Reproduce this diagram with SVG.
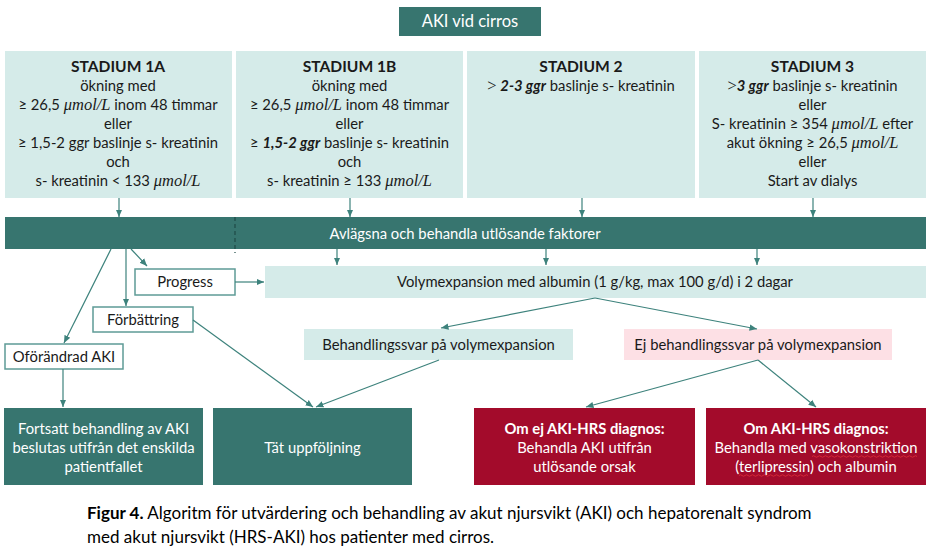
<svg xmlns="http://www.w3.org/2000/svg" width="935" height="549" viewBox="0 0 935 549">
<style>
text{font-family:Lato,"Open Sans","Liberation Sans",sans-serif;font-size:14.8px;fill:#1a1a1a}
.c{text-anchor:middle}
.w{fill:#ffffff}
.b{font-weight:bold}
.h{font-size:15.6px;font-weight:bold}
.m{font-family:"Liberation Serif","DejaVu Serif",serif;font-style:italic;font-size:16.5px}
.bi{font-style:italic;font-weight:bold}
.dark{fill:#37756f}
.light{fill:#d5ebe9}
.pink{fill:#fde0e5}
.red{fill:#a30b2b}
.wb{fill:#ffffff;stroke:#5e9b96;stroke-width:1.5}
.con line{stroke:#3d827c;stroke-width:1.2;marker-end:url(#ah)}
.cap{font-size:17px;fill:#000}
</style>
<defs>
<marker id="ah" markerUnits="userSpaceOnUse" markerWidth="8" markerHeight="8" refX="7.5" refY="4" orient="auto">
<path d="M0,0.8 L7.5,4 L0,7.2 z" fill="#3d827c"/>
</marker>
</defs>
<rect width="935" height="549" fill="#ffffff"/>

<g id="title">
<rect class="dark" x="399" y="7" width="142" height="29"/>
<text class="c w" x="470" y="27" style="font-size:16.5px">AKI vid cirros</text>
</g>

<g id="stadium1a">
<rect class="light" x="5" y="51" width="227" height="147"/>
<text class="c h" x="118" y="72">STADIUM 1A</text>
<text class="c" x="118" y="91">ökning med</text>
<text class="c" x="118" y="110">≥ 26,5 <tspan class="m">μmol/L</tspan> inom 48 timmar</text>
<text class="c" x="118" y="129">eller</text>
<text class="c" x="118" y="148">≥ 1,5-2 ggr baslinje s- kreatinin</text>
<text class="c" x="118" y="167">och</text>
<text class="c" x="118" y="186">s- kreatinin &lt; 133 <tspan class="m">μmol/L</tspan></text>
</g>

<g id="stadium1b">
<rect class="light" x="236" y="51" width="227" height="147"/>
<text class="c h" x="349.5" y="72">STADIUM 1B</text>
<text class="c" x="349.5" y="91">ökning med</text>
<text class="c" x="349.5" y="110">≥ 26,5 <tspan class="m">μmol/L</tspan> inom 48 timmar</text>
<text class="c" x="349.5" y="129">eller</text>
<text class="c" x="349.5" y="148">≥ <tspan class="bi">1,5-2 ggr</tspan> baslinje s- kreatinin</text>
<text class="c" x="349.5" y="167">och</text>
<text class="c" x="349.5" y="186">s- kreatinin ≥ 133 <tspan class="m">μmol/L</tspan></text>
</g>

<g id="stadium2">
<rect class="light" x="467" y="51" width="228" height="147"/>
<text class="c h" x="581" y="72">STADIUM 2</text>
<text class="c" x="581" y="91"><tspan class="m" style="font-style:normal">&gt;</tspan> <tspan class="bi">2-3 ggr</tspan> baslinje s- kreatinin</text>
</g>

<g id="stadium3">
<rect class="light" x="699" y="51" width="227" height="147"/>
<text class="c h" x="812.5" y="72">STADIUM 3</text>
<text class="c" x="812.5" y="91"><tspan class="m" style="font-style:normal">&gt;</tspan><tspan class="bi">3 ggr</tspan> baslinje s- kreatinin</text>
<text class="c" x="812.5" y="110">eller</text>
<text class="c" x="812.5" y="129">S- kreatinin ≥ 354 <tspan class="m">μmol/L</tspan> efter</text>
<text class="c" x="812.5" y="148">akut ökning ≥ 26,5 <tspan class="m">μmol/L</tspan></text>
<text class="c" x="812.5" y="167">eller</text>
<text class="c" x="812.5" y="186">Start av dialys</text>
</g>

<g id="avlagsna">
<rect class="dark" x="5" y="217" width="921" height="32"/>
<line x1="235" y1="217" x2="235" y2="253" stroke="#1f4a46" stroke-width="1.2" stroke-dasharray="4,3"/>
<text class="c w" x="465" y="239">Avlägsna och behandla utlösande faktorer</text>
</g>

<g id="volym">
<rect class="light" x="265" y="266" width="661" height="32"/>
<text class="c" x="595" y="287">Volymexpansion med albumin (1 g/kg, max 100 g/d) i 2 dagar</text>
</g>

<g id="progress">
<rect class="wb" x="135" y="269" width="100" height="26"/>
<text class="c" x="185" y="287">Progress</text>
</g>

<g id="forbattring">
<rect class="wb" x="93" y="307" width="100" height="25"/>
<text class="c" x="143" y="325">Förbättring</text>
</g>

<g id="oforandrad">
<rect class="wb" x="5" y="344" width="118" height="25"/>
<text class="c" x="64" y="362">Oförändrad AKI</text>
</g>

<g id="behandlingssvar">
<rect class="light" x="304" y="329" width="269" height="31"/>
<text class="c" x="438.5" y="350">Behandlingssvar på volymexpansion</text>
</g>

<g id="ejbehandlingssvar">
<rect class="pink" x="624" y="329" width="268" height="31"/>
<text class="c" x="758" y="350">Ej behandlingssvar på volymexpansion</text>
</g>

<g id="fortsatt">
<rect class="dark" x="4" y="408" width="199" height="77"/>
<text class="c w" x="103.5" y="434">Fortsatt behandling av AKI</text>
<text class="c w" x="103.5" y="453">beslutas utifrån det enskilda</text>
<text class="c w" x="103.5" y="472">patientfallet</text>
</g>

<g id="tat">
<rect class="dark" x="213" y="408" width="199" height="77"/>
<text class="c w" x="312.5" y="453">Tät uppföljning</text>
</g>

<g id="omej">
<rect class="red" x="474" y="408" width="221" height="77"/>
<text class="c w b" x="584.5" y="434">Om ej AKI-HRS diagnos:</text>
<text class="c w" x="584.5" y="453">Behandla AKI utifrån</text>
<text class="c w" x="584.5" y="472">utlösande orsak</text>
</g>

<g id="om">
<rect class="red" x="706" y="408" width="220" height="77"/>
<text class="c w b" x="816" y="434">Om AKI-HRS diagnos:</text>
<text class="c w" x="816" y="453">Behandla med vasokonstriktion</text>
<text class="c w" x="816" y="472">(terlipressin) och albumin</text>
<path d="M812,456.5 q1.5,-1.5 3,0 t3,0 t3,0 t3,0 t3,0 t3,0 t3,0 t3,0 t3,0 t3,0 t3,0 t3,0 t3,0 t3,0 t3,0 t3,0 t3,0 t3,0 t3,0 t3,0 t3,0 t3,0 t3,0 t3,0 t3,0 t3,0 t3,0 t3,0 t3,0 t3,0 t3,0 t3,0 t3,0 t3,0 t3,0" fill="none" stroke="#e0303a" stroke-width="0.8"/>
<path d="M739,475.5 q1.5,-1.5 3,0 t3,0 t3,0 t3,0 t3,0 t3,0 t3,0 t3,0 t3,0 t3,0 t3,0 t3,0 t3,0 t3,0 t3,0 t3,0 t3,0 t3,0 t3,0 t3,0 t3,0 t3,0 t3,0" fill="none" stroke="#e0303a" stroke-width="0.8"/>
</g>

<g id="connectors" class="con">
<line x1="119" y1="198" x2="119" y2="217"/>
<line x1="350" y1="198" x2="350" y2="217"/>
<line x1="582" y1="198" x2="582" y2="217"/>
<line x1="813" y1="198" x2="813" y2="217"/>
<line x1="337" y1="249" x2="337" y2="265"/>
<line x1="546" y1="249" x2="546" y2="265"/>
<line x1="757" y1="249" x2="757" y2="265"/>
<line x1="131" y1="249" x2="147" y2="266"/>
<line x1="126" y1="249" x2="126" y2="306"/>
<line x1="111" y1="249" x2="64" y2="343"/>
<line x1="235" y1="282" x2="264" y2="282"/>
<line x1="63" y1="369" x2="63" y2="407"/>
<line x1="193" y1="320" x2="313" y2="407"/>
<line x1="439" y1="360" x2="316" y2="407"/>
<line x1="595" y1="298" x2="441" y2="328"/>
<line x1="595" y1="298" x2="757" y2="329"/>
<line x1="758" y1="360" x2="586" y2="407"/>
<line x1="758" y1="360" x2="816" y2="407"/>
</g>

<g id="caption">
<text class="cap" x="87" y="519"><tspan font-weight="bold">Figur 4.</tspan> Algoritm för utvärdering och behandling av akut njursvikt (AKI) och hepatorenalt syndrom</text>
<text class="cap" x="87" y="543">med akut njursvikt (HRS-AKI) hos patienter med cirros.</text>
</g>
</svg>
